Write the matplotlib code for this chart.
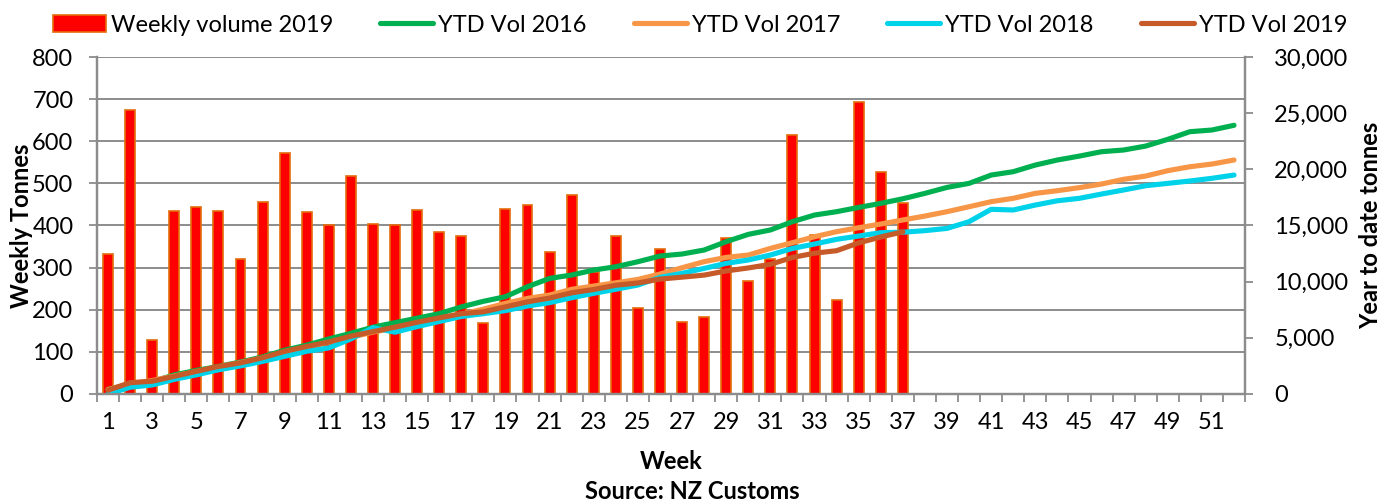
import matplotlib
matplotlib.use("Agg")
import matplotlib.pyplot as plt
from matplotlib.ticker import FuncFormatter, MultipleLocator
from matplotlib.patches import Patch
from matplotlib.lines import Line2D

plt.rcParams['font.family'] = ['Lato', 'DejaVu Sans']

weeks = list(range(1, 53))
weekly_2019 = [332, 675, 128, 435, 445, 435, 320, 455, 573, 432, 400, 518, 403, 400,
               437, 385, 375, 168, 440, 448, 338, 472, 290, 376, 204, 344, 172, 183,
               370, 268, 320, 616, 377, 223, 694, 528, 454]

ytd_2016 = [400, 900, 1100, 1700, 2100, 2450, 2850, 3300, 3900, 4350, 4900, 5400, 5950,
            6350, 6750, 7150, 7750, 8250, 8660, 9550, 10290, 10590, 11036, 11330, 11775,
            12280, 12460, 12816, 13560, 14210, 14600, 15340, 15930, 16230, 16610, 16970,
            17380, 17860, 18390, 18750, 19490, 19790, 20380, 20830, 21180, 21570, 21720,
            22070, 22670, 23350, 23500, 23920]
ytd_2017 = [400, 900, 1200, 1600, 2000, 2400, 2800, 3200, 3700, 4150, 4600, 5050, 5500,
            5900, 6300, 6700, 7100, 7550, 8070, 8510, 8810, 9320, 9610, 9900, 10200,
            10680, 11240, 11780, 12160, 12370, 12960, 13470, 14000, 14450, 14800, 15130,
            15490, 15840, 16230, 16670, 17120, 17420, 17860, 18100, 18370, 18690, 19110,
            19400, 19880, 20230, 20470, 20830]
ytd_2018 = [0, 600, 800, 1300, 1700, 2150, 2500, 2900, 3350, 3800, 4100, 4900, 5900,
            5500, 6000, 6450, 6900, 7150, 7420, 7830, 8130, 8570, 8960, 9320, 9700,
            10380, 10740, 11180, 11630, 11930, 12370, 12960, 13350, 13770, 14060, 14360,
            14400, 14540, 14740, 15340, 16440, 16380, 16820, 17200, 17420, 17800, 18160,
            18540, 18750, 18960, 19200, 19490]
ytd_2019 = [332, 1007, 1135, 1570, 2015, 2450, 2770, 3225, 3798, 4230, 4630, 5148, 5551,
            5951, 6388, 6773, 7148, 7316, 7756, 8204, 8542, 9014, 9304, 9680, 9884,
            10228, 10400, 10583, 10953, 11221, 11541, 12157, 12534, 12757, 13451, 13979,
            14433]

x_labels = [str(w) if w % 2 == 1 else '' for w in weeks]

FS = 17
fig = plt.figure(figsize=(13.84, 5.04), dpi=100)
ax = fig.add_axes([0.0701, 0.2183, 0.8295, 0.6686])
ax2 = ax.twinx()

grid_c = '#8c8c8c'
ax.set_axisbelow(True)
ax.bar(weeks[:len(weekly_2019)], weekly_2019, width=0.45, color='#FF0000',
       edgecolor='#E46C0A', linewidth=1.2, zorder=2)
ax.set_ylim(0, 800)
ax.set_xlim(0.5, 52.5)
ax.yaxis.set_major_locator(MultipleLocator(100))
ax.grid(axis='y', color=grid_c, linewidth=1.4)
ax.set_xticks(weeks)
ax.set_xticklabels(x_labels)
ax.set_xticks([w + 0.5 for w in range(0, 53)], minor=True)
ax.tick_params(axis='x', which='major', length=0, labelsize=FS, pad=13)
ax.tick_params(axis='x', which='minor', length=6, color=grid_c, width=1.3)
ax.tick_params(axis='y', labelsize=FS, length=6, color=grid_c, width=1.3, pad=11)
for s in ['left', 'bottom', 'right']:
    ax.spines[s].set_color(grid_c)
    ax.spines[s].set_linewidth(1.6)
ax.spines['top'].set_visible(False)
ax.set_xlabel('Week', fontsize=FS, fontweight='bold', labelpad=12)

lw = 3.7
ax2.plot(weeks, ytd_2016, color='#00B050', linewidth=lw, solid_capstyle='round')
ax2.plot(weeks, ytd_2017, color='#F79646', linewidth=lw, solid_capstyle='round')
ax2.plot(weeks, ytd_2018, color='#00D2EA', linewidth=lw, solid_capstyle='round')
ax2.plot(weeks[:len(ytd_2019)], ytd_2019, color='#C65A28', linewidth=lw, solid_capstyle='round')
ax2.set_ylim(0, 30000)
ax2.yaxis.set_major_locator(MultipleLocator(5000))
ax2.yaxis.set_major_formatter(FuncFormatter(lambda v, p: f'{int(v):,}'))
ax2.tick_params(axis='y', labelsize=FS, length=6, color=grid_c, width=1.3, pad=15)
for s in ['left', 'bottom', 'right']:
    ax2.spines[s].set_color(grid_c)
    ax2.spines[s].set_linewidth(1.6)
ax2.spines['top'].set_visible(False)

# axis titles
ymid = 1 - (57 + 394) / 2 / 504
fig.text(22 / 1384, ymid, 'Weekly Tonnes', rotation=90, ha='center', va='center',
         fontsize=FS, fontweight='bold')
fig.text(1371 / 1384, ymid, 'Year to date tonnes', rotation=90, ha='center', va='center',
         fontsize=FS, fontweight='bold')

handles = [Patch(facecolor='#FF0000', edgecolor='#E46C0A', linewidth=1.2),
           Line2D([], [], color='#00B050', linewidth=lw, solid_capstyle='round'),
           Line2D([], [], color='#F79646', linewidth=lw, solid_capstyle='round'),
           Line2D([], [], color='#00D2EA', linewidth=lw, solid_capstyle='round'),
           Line2D([], [], color='#C65A28', linewidth=lw, solid_capstyle='round')]
labels = ['Weekly volume 2019', 'YTD Vol 2016', 'YTD Vol 2017', 'YTD Vol 2018', 'YTD Vol 2019']
fig.legend(handles, labels, loc='center', bbox_to_anchor=(0.5058, 0.95), ncol=5,
           frameon=False, fontsize=FS, handlelength=2.25, handletextpad=0.2,
           columnspacing=2.0, borderpad=0, borderaxespad=0)

fig.text(0.5, 0.024, 'Source: NZ Customs', ha='center', va='center',
         fontsize=FS, fontweight='bold')

fig.savefig('out.png', dpi=100)
